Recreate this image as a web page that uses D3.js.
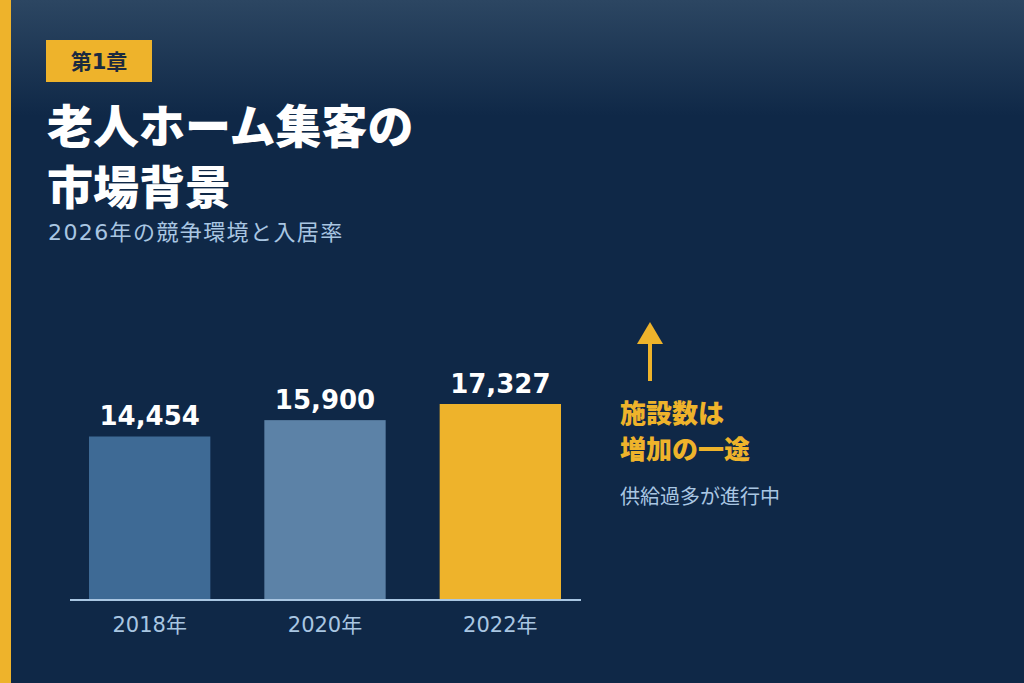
<!DOCTYPE html>
<html>
<head>
<meta charset="utf-8">
<script src="https://cdn.jsdelivr.net/npm/d3@7"></script>
<style>
  html, body { margin: 0; padding: 0; background: #0f2847; }
  svg { display: block; }
  text { font-family: "DejaVu Sans", "Noto Sans CJK JP", sans-serif; }
</style>
</head>
<body>
<script>
// data
let years = ["2018年", "2020年", "2022年"];
let facility_counts = [14454, 15900, 17327];

let chapter_label = "第1章";
let title_lines = ["老人ホーム集客の", "市場背景"];
let subtitle = "2026年の競争環境と入居率";
let note_lines = ["施設数は", "増加の一途"];
let note_sub = "供給過多が進行中";

// color
let color_yellow = "#eeb32b";
let color_navy = "#0f2847";
let color_navy_top = "#2c4662";
let color_light_blue = "#a9c6e2";
let bar_colors = ["#3e6a95", "#5c82a7", color_yellow];

let width = 1024;
let height = 683;

let f = d3.format(",");

let svg = d3.select("body")
            .append("svg")
            .attr("width", width)
            .attr("height", height);

// background gradient
let defs = svg.append("defs");
let grad = defs.append("linearGradient")
               .attr("id", "bg")
               .attr("x1", 0).attr("y1", 0)
               .attr("x2", 0).attr("y2", 1);
grad.append("stop").attr("offset", "0%").attr("stop-color", color_navy_top);
grad.append("stop").attr("offset", "17%").attr("stop-color", color_navy);
grad.append("stop").attr("offset", "100%").attr("stop-color", color_navy);

svg.append("rect")
   .attr("width", width)
   .attr("height", height)
   .attr("fill", "url(#bg)");

// left stripe
svg.append("rect")
   .attr("x", 0).attr("y", 0)
   .attr("width", 11).attr("height", height)
   .attr("fill", color_yellow);

// chapter badge
svg.append("rect")
   .attr("x", 46).attr("y", 40)
   .attr("width", 106).attr("height", 42)
   .attr("fill", color_yellow);
svg.append("text")
   .attr("x", 99).attr("y", 69)
   .attr("text-anchor", "middle")
   .attr("font-size", 21)
   .attr("font-weight", 700)
   .attr("fill", "#1b2a3f")
   .text(chapter_label);

// title
svg.selectAll(".title")
   .data(title_lines)
   .enter()
   .append("text")
   .attr("class", "title")
   .attr("x", 47)
   .attr("y", (d, i) => 143 + i * 61)
   .attr("font-size", 46)
   .attr("font-weight", 900)
   .attr("fill", "#ffffff")
   .text(d => d);

svg.append("text")
   .attr("x", 48).attr("y", 240)
   .attr("font-size", 22)
   .attr("letter-spacing", 1.4)
   .attr("fill", color_light_blue)
   .text(subtitle);

// bar chart
let x = d3.scaleBand()
          .domain(years)
          .range([89, 561])
          .paddingInner(0.308)
          .paddingOuter(0);

let y = d3.scaleLinear()
          .domain([0, 17327])
          .range([600, 404]);

let color = d3.scaleOrdinal().domain(years).range(bar_colors);

let rows = years.map((yr, i) => ({year: yr, value: facility_counts[i]}));

svg.selectAll(".bar")
   .data(rows)
   .enter()
   .append("rect")
   .attr("class", "bar")
   .attr("x", d => x(d.year))
   .attr("y", d => y(d.value))
   .attr("width", x.bandwidth())
   .attr("height", d => y(0) - y(d.value))
   .attr("fill", d => color(d.year));

svg.selectAll(".val")
   .data(rows)
   .enter()
   .append("text")
   .attr("class", "val")
   .attr("x", d => x(d.year) + x.bandwidth() / 2)
   .attr("y", d => y(d.value) - 11)
   .attr("text-anchor", "middle")
   .attr("font-size", 26)
   .attr("font-weight", 700)
   .attr("fill", "#ffffff")
   .text(d => f(d.value));

// baseline
svg.append("line")
   .attr("x1", 70).attr("x2", 581)
   .attr("y1", y(0)).attr("y2", y(0))
   .attr("stroke", color_light_blue)
   .attr("stroke-width", 2);

let xAxis = svg.append("g")
               .attr("transform", "translate(0," + y(0) + ")")
               .call(d3.axisBottom(x).tickSize(0).tickPadding(17));
xAxis.select(".domain").remove();
xAxis.selectAll("text")
     .attr("font-size", 21)
     .attr("fill", color_light_blue)
     .style("font-family", "\"DejaVu Sans\", \"Noto Sans CJK JP\", sans-serif");

// annotation arrow
svg.append("line")
   .attr("x1", 650).attr("x2", 650)
   .attr("y1", 381).attr("y2", 340)
   .attr("stroke", color_yellow)
   .attr("stroke-width", 4);
svg.append("path")
   .attr("d", "M650,322 L663,344 L637,344 Z")
   .attr("fill", color_yellow);

svg.selectAll(".note")
   .data(note_lines)
   .enter()
   .append("text")
   .attr("class", "note")
   .attr("x", 620)
   .attr("y", (d, i) => 423 + i * 36)
   .attr("font-size", 26)
   .attr("font-weight", 900)
   .attr("fill", color_yellow)
   .text(d => d);

svg.append("text")
   .attr("x", 620).attr("y", 504)
   .attr("font-size", 20)
   .attr("fill", color_light_blue)
   .text(note_sub);
</script>
</body>
</html>
